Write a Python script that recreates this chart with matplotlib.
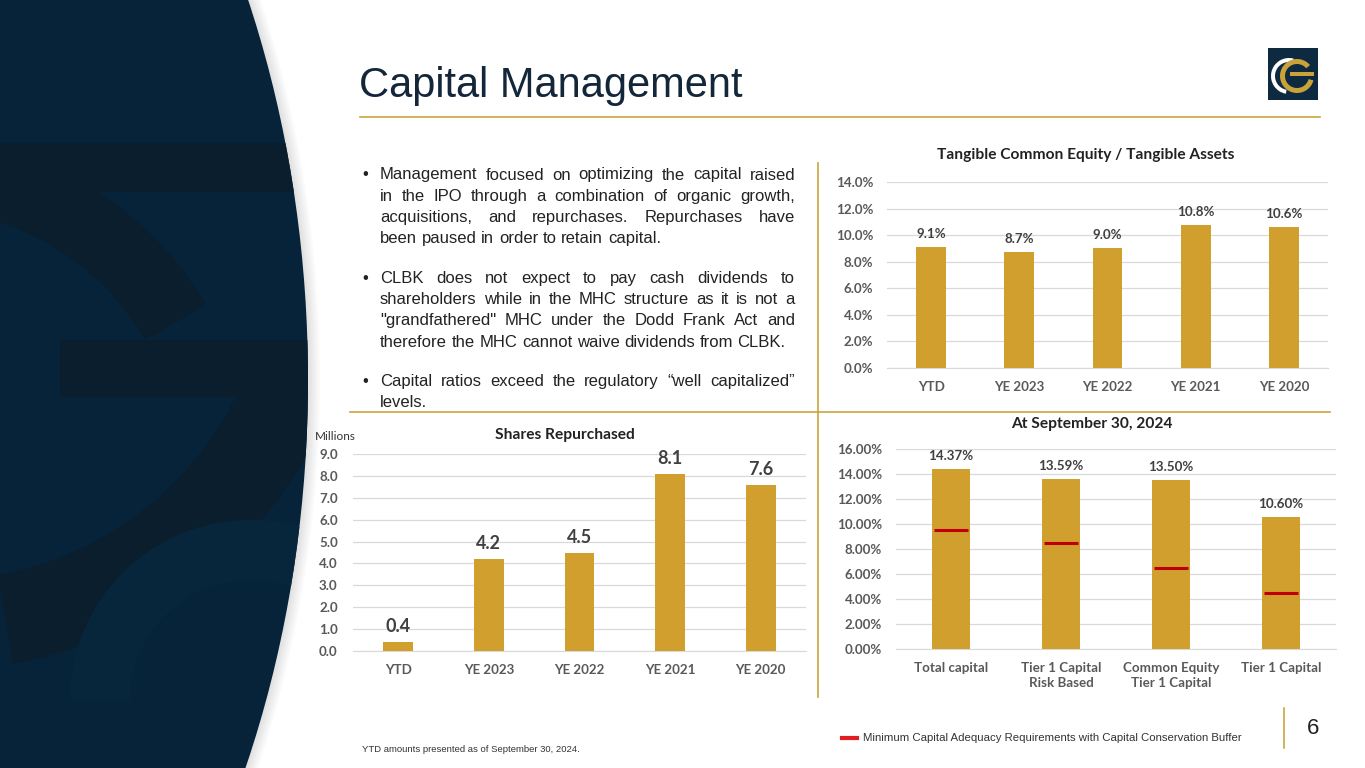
import matplotlib.pyplot as plt
from matplotlib.patches import Ellipse, Rectangle, Wedge

W, H = 1365, 768

# chart data
tce_cats = ['YTD', 'YE 2023', 'YE 2022', 'YE 2021', 'YE 2020']
tce_vals = [9.1, 8.7, 9.0, 10.8, 10.6]

rep_cats = ['YTD', 'YE 2023', 'YE 2022', 'YE 2021', 'YE 2020']
rep_vals = [0.4, 4.2, 4.5, 8.1, 7.6]

reg_cats = ['Total capital', 'Tier 1 Capital\nRisk Based', 'Common Equity\nTier 1 Capital', 'Tier 1 Capital']
reg_vals = [14.37, 13.59, 13.50, 10.60]
reg_min = [9.5, 8.5, 6.5, 4.5]

# bullet text, one entry per line (None = paragraph break)
bullets = [
    ('Management focused on optimizing the capital raised', True, True),
    ('in the IPO through a combination of organic growth,', False, True),
    ('acquisitions, and repurchases. Repurchases have', False, True),
    ('been paused in order to retain capital.', False, False),
    None,
    ('CLBK does not expect to pay cash dividends to', True, True),
    ('shareholders while in the MHC structure as it is not a', False, True),
    ('"grandfathered" MHC under the Dodd Frank Act and', False, True),
    ('therefore the MHC cannot waive dividends from CLBK.', False, False),
    None,
    ('Capital ratios exceed the regulatory \u201cwell capitalized\u201d', True, True),
    ('levels.', False, False),
]

GOLD = '#D09F2E'
LINE_GOLD = '#C8A441'
NAVY = '#06233A'
TICK = '#595959'
LABEL = '#404040'
CHART_FONT = 'Lato'
TEXT_FONT = 'Liberation Sans'

fig = plt.figure(figsize=(W / 100, H / 100), dpi=100)
fig.patch.set_facecolor('white')

def rect(x0, y0, x1, y1):
    return [x0 / W, 1 - y1 / H, (x1 - x0) / W, (y1 - y0) / H]

# overlay axes in pixel coordinates
bg = fig.add_axes([0, 0, 1, 1])
bg.set_xlim(0, W)
bg.set_ylim(H, 0)
bg.axis('off')

# left background shape with soft shadow
for k in range(6):
    bg.add_patch(Ellipse((-332, 380), 1280 + 4 * (6 - k), 1800 + 4 * (6 - k),
                         color='#000000', alpha=0.018, lw=0))
shape = Ellipse((-332, 380), 1280, 1800, color=NAVY, lw=0)
bg.add_patch(shape)
dark = '#0A1E2D'
for p in [Rectangle((0, 143), 320, 49, color=dark, lw=0),
          Rectangle((60, 340), 260, 57, color=dark, lw=0),
          Wedge((-80, 470), 330, 200, 330, width=70, color=dark, lw=0),
          Wedge((-60, 250), 420, 20, 80, width=90, color=dark, lw=0),
          Wedge((60, 1050), 470, 95, 150, width=110, color=dark, lw=0),
          Wedge((250, 700), 180, 180, 300, width=60, color='#07263C', lw=0)]:
    bg.add_patch(p)
    p.set_clip_path(shape)

# title and rule
bg.text(359, 86, 'Capital Management', fontsize=30, color='#14263A',
        family=TEXT_FONT, va='center', ha='left')
bg.plot([360, 1320], [117, 117], color=LINE_GOLD, lw=1.2)

# logo
bg.add_patch(Rectangle((1268, 48), 50, 52, color='#0D2A40', lw=0))
bg.add_patch(Wedge((1289, 76), 18, 100, 285, width=4, color='white', lw=0))
bg.add_patch(Wedge((1297, 76), 17, 15, 320, width=5, color='#C9A33A', lw=0))
bg.add_patch(Rectangle((1290, 72), 24, 4, color='#C9A33A', lw=0))

# dividers
bg.plot([818, 818], [163, 697], color=LINE_GOLD, lw=1.2)
bg.plot([350, 1330], [412, 412], color=LINE_GOLD, lw=1.2)

# justified bullet text
renderer = fig.canvas.get_renderer()
x0, x1 = 380, 795
y = 175
fs = 12
space = fs * 100 / 72 * 0.278
for item in bullets:
    if item is None:
        y += 18
        continue
    line, has_bullet, just = item
    if has_bullet:
        bg.text(362, y, '\u2022', fontsize=fs, family=TEXT_FONT, color='#222222', va='center')
    words = line.split()
    ts = [bg.text(0, y, w, fontsize=fs, family=TEXT_FONT, color='#222222', va='center')
          for w in words]
    widths = [t.get_window_extent(renderer).width for t in ts]
    if just and len(words) > 1:
        gap = (x1 - x0 - sum(widths)) / (len(words) - 1)
    else:
        gap = space
    x = x0
    for t, w in zip(ts, widths):
        t.set_x(x)
        x += w + gap
    y += 21.3

# footnotes
bg.text(362, 749, 'YTD amounts presented as of September 30, 2024.', fontsize=6.8,
        family=TEXT_FONT, color='#333333', va='center')
bg.plot([842, 857], [738, 738], color='#E02020', lw=3)
bg.text(863, 738, 'Minimum Capital Adequacy Requirements with Capital Conservation Buffer',
        fontsize=8.2, family=TEXT_FONT, color='#333333', va='center')
bg.plot([1284, 1284], [708, 748], color=LINE_GOLD, lw=1.2)
bg.text(1313, 729, '6', fontsize=16, family=TEXT_FONT, color='#222222', va='center', ha='center')

# chart titles
bg.text(1086, 155, 'Tangible Common Equity / Tangible Assets', fontsize=11.2,
        family=CHART_FONT, weight='bold', color='#222222', ha='center', va='center')
bg.text(565, 435, 'Shares Repurchased', fontsize=11.2, family=CHART_FONT,
        weight='bold', color='#222222', ha='center', va='center')
bg.text(1092, 424, 'At September 30, 2024', fontsize=11.2, family=CHART_FONT,
        weight='bold', color='#222222', ha='center', va='center')
bg.text(315, 437, 'Millions', fontsize=8.5, family=CHART_FONT, color='#333333', va='center')


def bar_chart(box, cats, vals, ymax, step, fmt, lab_fmt, lab_size, width, pad_y):
    ax = fig.add_axes(rect(*box))
    ax.patch.set_alpha(0)
    xs = range(len(cats))
    ax.bar(xs, vals, width=width, color=GOLD, zorder=3)
    ax.set_xlim(-0.5, len(cats) - 0.5)
    ax.set_ylim(0, ymax)
    ticks = [i * step for i in range(int(round(ymax / step)) + 1)]
    ax.set_yticks(ticks)
    ax.set_yticklabels([fmt.format(t) for t in ticks])
    ax.set_xticks(list(xs))
    ax.set_xticklabels(cats, linespacing=1.35)
    ax.grid(axis='y', color='#D9D9D9', lw=0.9, zorder=0)
    for s in ['top', 'right', 'left']:
        ax.spines[s].set_visible(False)
    ax.spines['bottom'].set_color('#D9D9D9')
    ax.tick_params(length=0, colors=TICK, labelsize=9.6)
    ax.tick_params(axis='y', pad=pad_y)
    ax.tick_params(axis='x', pad=9)
    for t in ax.get_xticklabels() + ax.get_yticklabels():
        t.set_family(CHART_FONT)
        t.set_weight('bold')
    for i, v in enumerate(vals):
        ax.annotate(lab_fmt.format(v), (i, v), xytext=(0, 5), textcoords='offset points',
                    ha='center', va='bottom', fontsize=lab_size, family=CHART_FONT,
                    weight='bold', color=LABEL)
    return ax

bar_chart((887, 182, 1328, 368), tce_cats, tce_vals, 14, 2, '{:.1f}%', '{:.1f}%', 9.6, 0.34, 10)
bar_chart((353, 454, 806, 651), rep_cats, rep_vals, 9, 1, '{:.1f}', '{:.1f}', 13, 0.33, 11)
ax3 = bar_chart((896, 449, 1336, 649), reg_cats, reg_vals, 16, 2, '{:.2f}%', '{:.2f}%', 9.6, 0.34, 10)
for i, m in enumerate(reg_min):
    ax3.hlines(m, i - 0.155, i + 0.155, color='#C00000', lw=2.2, zorder=4)

fig.savefig('out.png', dpi=100)
